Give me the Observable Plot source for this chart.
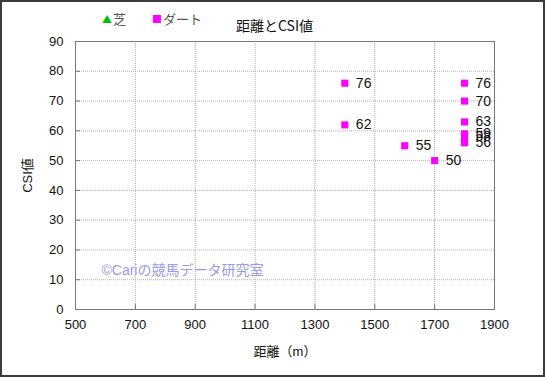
<!DOCTYPE html>
<html>
<head>
<meta charset="utf-8">
<script src="https://cdn.jsdelivr.net/npm/d3@7"></script>
<script src="https://cdn.jsdelivr.net/npm/@observablehq/plot@0.6"></script>
<style>
  body { margin: 0; background: #fff; }
  #wrap { position: relative; width: 545px; height: 377px; font-family: "Liberation Sans", "Noto Sans CJK JP", sans-serif; }
  #frame { position: absolute; left: 0; top: 0; width: 545px; height: 377px; box-sizing: border-box; border: 2px solid #3c3c3c; pointer-events: none; }
  #title { position: absolute; left: 236px; top: 15px; font-size: 14px; color: #111; font-family: "Noto Sans CJK JP", sans-serif; }
  #legend { position: absolute; left: 102px; top: 9px; font-size: 13px; color: #555; font-family: "Noto Sans CJK JP", sans-serif; display: flex; gap: 26px; }
  #legend span.sym { font-size: 10px; margin-right: 1px; vertical-align: 1px; }
</style>
</head>
<body>
<div id="wrap">
  <div id="chart"></div>
  <div id="legend"></div>
  <div id="title"></div>
  <div id="frame"></div>
</div>
<script>
const titleText = "距離とCSI値";
const xLabel = "距離（m）";
const yLabel = "CSI値";
const watermark = "©Cariの競馬データ研究室";
const legendNames = ["芝", "ダート"];
const legendSymbols = ["▲", "■"];
const legendColors = ["#00c000", "#ff00ff"];
const distance = [1400, 1400, 1600, 1700, 1800, 1800, 1800, 1800, 1800, 1800];
const csi = [76, 62, 55, 50, 76, 70, 63, 59, 58, 56];
const xTicks = [500, 700, 900, 1100, 1300, 1500, 1700, 1900];
const yTicks = [0, 10, 20, 30, 40, 50, 60, 70, 80, 90];

const data = distance.map((d, i) => ({distance: d, csi: csi[i]}));

document.getElementById("title").textContent = titleText;
const leg = document.getElementById("legend");
legendNames.forEach((n, i) => {
  const item = document.createElement("div");
  const s = document.createElement("span");
  s.className = "sym";
  s.style.color = legendColors[i];
  s.textContent = legendSymbols[i];
  item.appendChild(s);
  item.appendChild(document.createTextNode(n));
  leg.appendChild(item);
});

const chart = Plot.plot({
  width: 545,
  height: 377,
  marginLeft: 75,
  marginRight: 51,
  marginTop: 41,
  marginBottom: 68,
  style: {fontFamily: "Liberation Sans, Noto Sans CJK JP, sans-serif", fontSize: "13px", color: "#111", background: "#fff"},
  x: {domain: [500, 1900]},
  y: {domain: [0, 90]},
  marks: [
    Plot.gridX(xTicks.slice(1, -1), {stroke: "#b0b0b0", strokeOpacity: 1, strokeDasharray: "1,1"}),
    Plot.gridY(yTicks.slice(1, -1), {stroke: "#b0b0b0", strokeOpacity: 1, strokeDasharray: "1,1"}),
    Plot.frame({stroke: "#777"}),
    Plot.axisX(xTicks, {tickSize: -5, tickPadding: 15, stroke: "#777", tickFormat: "d", label: xLabel, labelAnchor: "center", labelArrow: "none", labelOffset: 46, fontSize: 13}),
    Plot.axisY(yTicks, {tickSize: -5, tickPadding: 17, stroke: "#777", label: yLabel, labelAnchor: "center", labelArrow: "none", labelOffset: 53, fontSize: 13}),
    Plot.text([watermark], {frameAnchor: "bottom-left", dx: 26, dy: -35, textAnchor: "start", fill: "#9a9af0", fontSize: 14}),
    Plot.dot(data, {x: "distance", y: "csi", symbol: "square", r: 4, fill: "#ff00ff", stroke: "none"}),
    Plot.text(data, {x: "distance", y: "csi", text: d => String(d.csi), dx: 11, textAnchor: "start", fill: "#111", fontSize: 14})
  ]
});
document.getElementById("chart").appendChild(chart);
</script>
</body>
</html>
